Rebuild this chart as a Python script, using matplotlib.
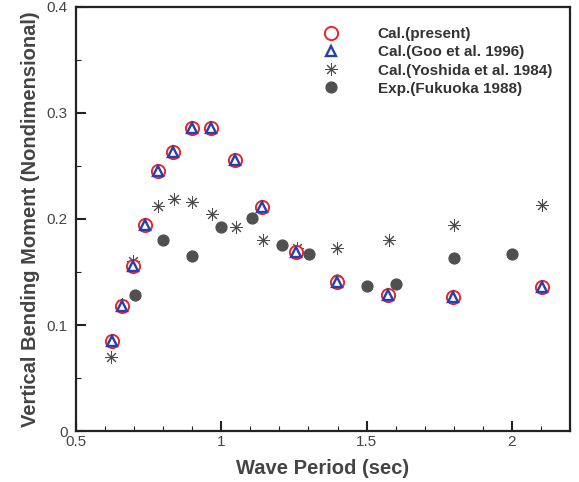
import numpy as np
import matplotlib
matplotlib.use("Agg")
import matplotlib.pyplot as plt
from matplotlib.ticker import MultipleLocator

# Cal. (present) -- Goo et al. 1996 lies on the same points
period_cal = [0.623, 0.658, 0.697, 0.738, 0.783, 0.834, 0.898, 0.966,
              1.048, 1.139, 1.257, 1.398, 1.575, 1.798, 2.102]
moment_present = [0.085, 0.118, 0.156, 0.194, 0.245, 0.263, 0.286, 0.286,
                  0.256, 0.211, 0.169, 0.141, 0.128, 0.126, 0.136]
moment_goo = [0.085, 0.118, 0.156, 0.194, 0.245, 0.263, 0.286, 0.286,
              0.256, 0.211, 0.169, 0.141, 0.128, 0.126, 0.136]

# Cal. (Yoshida et al. 1984)
period_yoshida = [0.620, 0.658, 0.697, 0.783, 0.838, 0.900, 0.968, 1.052,
                  1.144, 1.259, 1.398, 1.577, 1.800, 2.104]
moment_yoshida = [0.070, 0.120, 0.160, 0.212, 0.219, 0.216, 0.205, 0.192,
                  0.180, 0.173, 0.173, 0.180, 0.194, 0.213]

# Exp. (Fukuoka 1988)
period_exp = [0.702, 0.800, 0.900, 1.000, 1.106, 1.209, 1.301, 1.398,
              1.501, 1.602, 1.800, 2.001]
moment_exp = [0.128, 0.180, 0.165, 0.192, 0.201, 0.175, 0.167, 0.142,
              0.137, 0.139, 0.163, 0.167]

plt.rcParams['font.family'] = ['Liberation Sans', 'DejaVu Sans']

fig = plt.figure(figsize=(5.79, 4.82), dpi=100)
ax = fig.add_axes([0.1313, 0.1058, 0.8532, 0.8797])

ax.plot(period_exp, moment_exp, linestyle='none', marker='o', ms=7.8,
        color='#505050', mec='#505050', label='Exp.(Fukuoka 1988)', zorder=2)
ax.plot(period_yoshida, moment_yoshida, linestyle='none', marker=(8, 2, 0),
        ms=9, color='#4a4a4a', mew=0.7, label='Cal.(Yoshida et al. 1984)', zorder=3)
ax.plot(period_cal, moment_present, linestyle='none', marker='o', ms=9.5,
        mfc='white', mec='#e8262a', mew=1.4, label='Cal.(present)', zorder=4)
ax.plot(period_cal, moment_goo, linestyle='none', marker='^', ms=6.5,
        mfc='white', mec='#2a3fae', mew=1.7, label='Cal.(Goo et al. 1996)', zorder=5)

ax.set_xlim(0.5, 2.2)
ax.set_ylim(0, 0.4)
ax.xaxis.set_minor_locator(MultipleLocator(0.1))
ax.yaxis.set_minor_locator(MultipleLocator(0.05))
ax.set_xticks([0.5, 1.0, 1.5, 2.0])
ax.set_xticklabels(['0.5', '1', '1.5', '2'])
ax.set_yticks([0, 0.1, 0.2, 0.3, 0.4])
ax.set_yticklabels(['0', '0.1', '0.2', '0.3', '0.4'])

ax.tick_params(which='both', direction='in', top=False, right=False,
               labelsize=11, labelcolor='#444444', color='#222222')
ax.tick_params(which='major', length=7, width=1.5)
ax.tick_params(axis='y', which='major', pad=6)
ax.tick_params(axis='x', which='major', pad=3)
ax.tick_params(which='minor', length=3.5, width=0.8)
for s in ax.spines.values():
    s.set_linewidth(1.6)
    s.set_color('#222222')

ax.set_xlabel('Wave Period (sec)', fontsize=14.5, fontweight='bold',
              color='#444444', labelpad=7)
ax.set_ylabel('Vertical Bending Moment (Nondimensional)', fontsize=14.5,
              fontweight='bold', color='#444444', labelpad=5)

handles, labels = ax.get_legend_handles_labels()
order = [2, 3, 1, 0]
leg = ax.legend([handles[i] for i in order], [labels[i] for i in order],
                loc='upper left', bbox_to_anchor=(0.545, 0.944),
                bbox_transform=fig.transFigure, frameon=False,
                prop={'size': 11, 'weight': 'bold'}, handletextpad=2.07,
                labelspacing=0.28, borderaxespad=0, borderpad=0)
for t in leg.get_texts():
    t.set_color('#333333')

fig.savefig('out.png', dpi=100)
